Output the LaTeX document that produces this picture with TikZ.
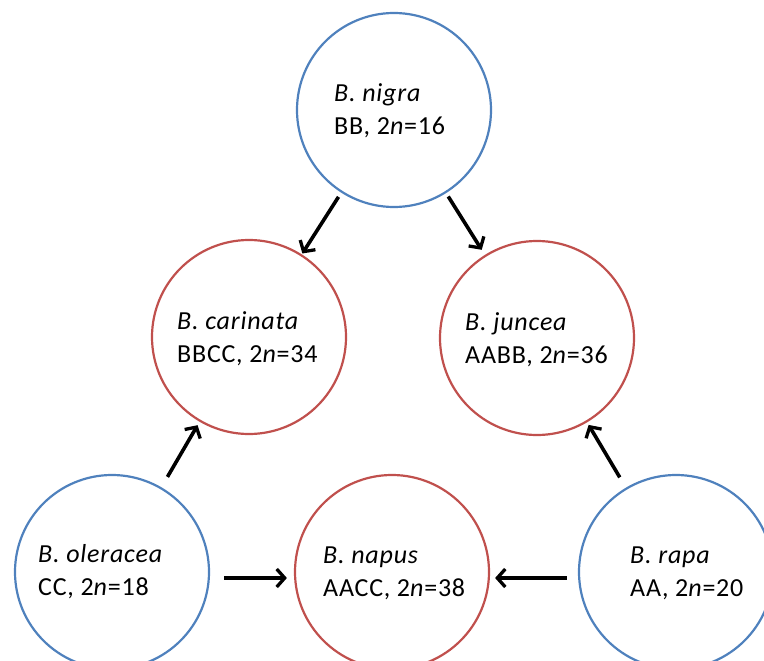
\documentclass[tikz,border=0pt]{standalone}
\usepackage{fontspec}
\setmainfont{Carlito}[LetterSpace=3]
\usetikzlibrary{arrows.meta}
\definecolor{dipblue}{RGB}{79,129,189}
\definecolor{polyred}{RGB}{192,80,77}
\begin{document}
\begin{tikzpicture}[x=1pt,y=-1pt,
  species/.style={circle,minimum size=194pt,inner sep=0pt,line width=2.2pt,draw},
  diploid/.style={species,draw=dipblue},
  amphi/.style={species,draw=polyred},
  lab/.style={anchor=base west,align=left,inner sep=0pt,font=\fontsize{26}{33}\selectfont},
  cross/.style={line width=3.6pt,-{Straight Barb[length=8pt,width=18pt,line width=3.3pt]}}]
\useasboundingbox (0,0) rectangle (764,661);
\node[diploid] (nigra) at (394,110) {};
\node[amphi] (carinata) at (249,337) {};
\node[amphi] (juncea) at (537,338) {};
\node[diploid] (oleracea) at (112,572) {};
\node[amphi] (napus) at (392,572) {};
\node[diploid] (rapa) at (676,572) {};
\node[lab] (tnigra) at (334,135) {\textit{B. nigra}\\BB, 2\textit{n}=16};
\node[lab] (tcarinata) at (177,362) {\textit{B. carinata}\\BBCC, 2\textit{n}=34};
\node[lab] (tjuncea) at (465,363) {\textit{B. juncea}\\AABB, 2\textit{n}=36};
\node[lab] (toleracea) at (38,595) {\textit{B. oleracea}\\CC, 2\textit{n}=18};
\node[lab] (tnapus) at (323,596) {\textit{B. napus}\\AACC, 2\textit{n}=38};
\node[lab] (trapa) at (630,596) {\textit{B. rapa}\\AA, 2\textit{n}=20};
\draw[cross,shorten <=5pt,shorten >=1pt] (nigra) -- (carinata);
\draw[cross,shorten <=4pt,shorten >=6pt] (nigra) -- (juncea);
\draw[cross,shorten <=12pt,shorten >=4pt] (oleracea) -- (carinata);
\draw[cross,shorten <=12pt,shorten >=3pt] (rapa) -- (juncea);
\draw[cross,shorten <=14pt,shorten >=7pt] ([yshift=-6pt]oleracea.east) -- ([yshift=-6pt]napus.west);
\draw[cross,shorten <=11pt,shorten >=5pt] ([yshift=-6pt]rapa.west) -- ([yshift=-6pt]napus.east);
\end{tikzpicture}
\end{document}
